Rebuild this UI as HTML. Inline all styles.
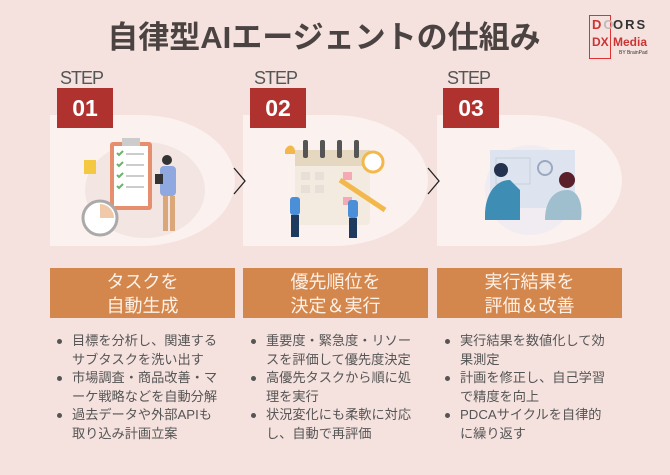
<!DOCTYPE html>
<html><head><meta charset="utf-8"><style>
body{margin:0;width:670px;height:475px;background:#f5e2de;font-family:"Liberation Sans","Noto Sans CJK JP",sans-serif;position:relative;overflow:hidden}
.a{position:absolute}
.title{left:0;width:648px;top:12px;text-align:center;font-size:31px;font-weight:bold;color:#4a4341;letter-spacing:0}
.step{font-size:18px;color:#555;letter-spacing:-1px}
.num{width:56px;height:40px;background:#b0322f;color:#fff;font-weight:bold;font-size:23px;text-align:center;line-height:40px}
.card{width:185px;height:131px;background:#fbf1ee;border-radius:0 95px 95px 0/0 66px 66px 0}
.ban{width:185px;height:50px;background:#d4874c;color:#fdf1e8;font-size:18px;text-align:center;line-height:24px;padding-top:2px;box-sizing:border-box}
ul{margin:0;padding:0;list-style:none}
li{position:relative;padding-left:16px;font-size:13.2px;line-height:18.5px;color:#555;white-space:nowrap}
li:before{content:"";position:absolute;left:1px;top:7px;width:5px;height:5px;border-radius:50%;background:#555}
</style></head><body>
<div class="a title">自律型AIエージェントの仕組み</div>
<div class="a" style="left:589px;top:15px;width:60px;height:44px">
 <div class="a" style="left:0;top:0;width:22px;height:44px;border:1.5px solid #d33;box-sizing:border-box"></div>
 <div class="a" style="left:3px;top:2px;font-size:13px;font-weight:bold;color:#c33;letter-spacing:2px">D<span style="color:#bbb">O</span></div>
 <div class="a" style="left:24px;top:2px;font-size:13px;font-weight:bold;color:#333;letter-spacing:2px">ORS</div>
 <div class="a" style="left:3px;top:20px;font-size:12px;font-weight:bold;color:#c33">DX</div>
 <div class="a" style="left:24px;top:20px;font-size:12px;font-weight:bold;color:#c33">Media</div>
 <div class="a" style="left:30px;top:35px;font-size:5px;color:#333">BY BrainPad</div>
</div>

<div class="a step" style="left:60px;top:68px">STEP</div>
<div class="a step" style="left:254px;top:68px">STEP</div>
<div class="a step" style="left:447px;top:68px">STEP</div>

<div class="a card" style="left:50px;top:115px"></div>
<div class="a card" style="left:243px;top:115px"></div>
<div class="a card" style="left:437px;top:115px"></div>

<div class="a num" style="left:57px;top:88px">01</div>
<div class="a num" style="left:250px;top:88px">02</div>
<div class="a num" style="left:443px;top:88px">03</div>

<svg class="a" style="left:70px;top:130px" width="150" height="110">
 <ellipse cx="75" cy="60" rx="60" ry="48" fill="#f3e6e2"/>
 <rect x="40" y="12" width="42" height="68" rx="3" fill="#e58f6f"/>
 <rect x="44" y="16" width="34" height="60" fill="#fff"/>
 <rect x="52" y="8" width="18" height="8" fill="#ccc"/>
 <g stroke="#6bb36b" stroke-width="2" fill="none"><path d="M47 23l2 2 4-4M47 34l2 2 4-4M47 45l2 2 4-4M47 56l2 2 4-4"/></g>
 <g stroke="#ccc" stroke-width="2"><path d="M56 24h18M56 35h18M56 46h18M56 57h18"/></g>
 <rect x="14" y="30" width="12" height="14" fill="#f5c842"/>
 <circle cx="30" cy="88" r="17" fill="#fff" stroke="#aaa" stroke-width="3"/>
 <path d="M30 88V74A14 14 0 0 1 44 88Z" fill="#f0c9a8"/>
 <circle cx="97" cy="30" r="5" fill="#333"/>
 <rect x="90" y="36" width="16" height="30" rx="4" fill="#8fa8e0"/>
 <rect x="93" y="66" width="5" height="35" fill="#d9a77a"/><rect x="100" y="66" width="5" height="35" fill="#d9a77a"/>
 <rect x="85" y="44" width="8" height="10" fill="#333"/>
</svg>
<svg class="a" style="left:285px;top:140px" width="110" height="100">
 <rect x="10" y="10" width="75" height="75" rx="4" fill="#f3ebe0"/>
 <rect x="10" y="10" width="75" height="16" fill="#e6d8c0"/>
 <g fill="#555"><rect x="18" y="0" width="5" height="18" rx="2"/><rect x="35" y="0" width="5" height="18" rx="2"/><rect x="52" y="0" width="5" height="18" rx="2"/><rect x="69" y="0" width="5" height="18" rx="2"/></g>
 <g fill="#e8e0d8"><rect x="16" y="32" width="9" height="8"/><rect x="30" y="32" width="9" height="8"/><rect x="58" y="32" width="9" height="8" fill="#f4a9b5"/><rect x="16" y="45" width="9" height="8"/><rect x="30" y="45" width="9" height="8"/><rect x="58" y="57" width="9" height="8" fill="#f4a9b5"/></g>
 <circle cx="88" cy="22" r="10" fill="#fff" stroke="#f2b84b" stroke-width="3"/>
 <path d="M55 40L100 70" stroke="#f2b84b" stroke-width="5"/>
 <rect x="5" y="57" width="10" height="18" rx="3" fill="#4a8fd8"/><rect x="6" y="75" width="8" height="22" fill="#1f3a5f"/>
 <rect x="63" y="60" width="10" height="18" rx="3" fill="#4a8fd8"/><rect x="64" y="78" width="8" height="20" fill="#1f3a5f"/>
 <path d="M0 10c3-6 8-6 10 0v4h-10z" fill="#f2b84b"/>
</svg>
<svg class="a" style="left:470px;top:140px" width="120" height="100">
 <ellipse cx="60" cy="50" rx="45" ry="45" fill="#f0ecf2"/>
 <rect x="20" y="10" width="85" height="58" fill="#dde4ef"/>
 <rect x="26" y="18" width="34" height="26" fill="none" stroke="#c7d0de"/>
 <circle cx="75" cy="28" r="7" fill="none" stroke="#9aa8c0" stroke-width="2"/>
 <circle cx="31" cy="30" r="7" fill="#24324f"/>
 <path d="M15 75c0-20 10-35 25-35l10 10v30h-35z" fill="#3d8db5"/>
 <circle cx="97" cy="40" r="8" fill="#5a1f2a"/>
 <path d="M75 80c0-18 8-30 22-30 12 0 16 15 14 30z" fill="#9fbfcf"/>
</svg>

<svg class="a" style="left:232px;top:166px" width="16" height="30"><path d="M2 2L13 15L2 28" fill="none" stroke="#222" stroke-width="1.3"/></svg>
<svg class="a" style="left:426px;top:166px" width="16" height="30"><path d="M2 2L13 15L2 28" fill="none" stroke="#222" stroke-width="1.3"/></svg>

<div class="a ban" style="left:50px;top:268px">タスクを<br>自動生成</div>
<div class="a ban" style="left:243px;top:268px">優先順位を<br>決定＆実行</div>
<div class="a ban" style="left:437px;top:268px">実行結果を<br>評価＆改善</div>

<ul class="a" style="left:56px;top:332px;width:180px">
<li>目標を分析し、関連する<br>サブタスクを洗い出す</li>
<li>市場調査・商品改善・マ<br>ーケ戦略などを自動分解</li>
<li>過去データや外部APIも<br>取り込み計画立案</li></ul>
<ul class="a" style="left:250px;top:332px;width:180px">
<li>重要度・緊急度・リソー<br>スを評価して優先度決定</li>
<li>高優先タスクから順に処<br>理を実行</li>
<li>状況変化にも柔軟に対応<br>し、自動で再評価</li></ul>
<ul class="a" style="left:444px;top:332px;width:180px">
<li>実行結果を数値化して効<br>果測定</li>
<li>計画を修正し、自己学習<br>で精度を向上</li>
<li>PDCAサイクルを自律的<br>に繰り返す</li></ul>
</body></html>
